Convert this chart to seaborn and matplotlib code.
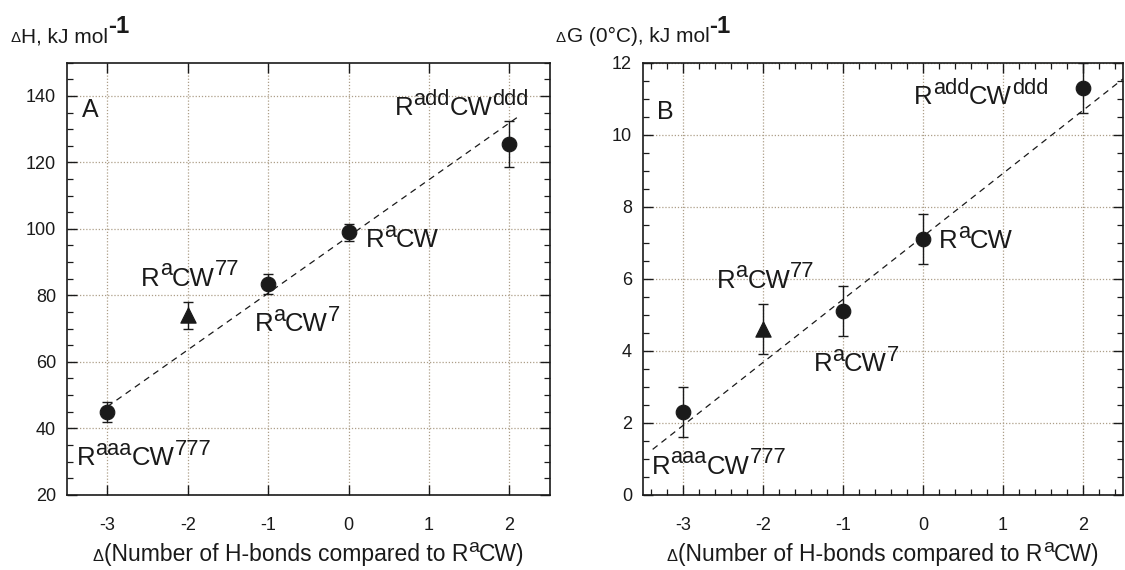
import matplotlib

matplotlib.use("Agg")
import matplotlib.pyplot as plt
import numpy as np
import pandas as pd
import seaborn as sns
from matplotlib.ticker import MultipleLocator
from matplotlib.transforms import offset_copy

sns.set_theme(style="ticks")
plt.rcParams["font.family"] = ["Liberation Sans", "DejaVu Sans"]
plt.rcParams["axes.unicode_minus"] = False

# circles: the compound series, triangle: the odd one out
circle_x = [-3, -1, 0, 2]
triangle_x = [-2]

dh_circle = [45.0, 83.5, 99.0, 125.5]
dh_circle_err = [3.0, 3.0, 2.5, 7.0]
dh_triangle = [74.0]
dh_triangle_err = [4.0]

dg_circle = [2.3, 5.1, 7.1, 11.3]
dg_circle_err = [0.7, 0.7, 0.7, 0.7]
dg_triangle = [4.6]
dg_triangle_err = [0.7]

# dashed fit lines
dh_fit_x = [-3.0, 2.1]
dh_fit_y = [46.5, 133.6]
dg_fit_x = [-3.38, 2.5]
dg_fit_y = [1.26, 11.55]

# point labels as (text, superscript?) pieces
point_labels = [
    [("R", False), ("aaa", True), ("CW", False), ("777", True)],
    [("R", False), ("a", True), ("CW", False), ("77", True)],
    [("R", False), ("a", True), ("CW", False), ("7", True)],
    [("R", False), ("a", True), ("CW", False)],
    [("R", False), ("add", True), ("CW", False), ("ddd", True)],
]
dh_label_pos = [(-3.38, 29.0), (-2.58, 82.9), (-1.17, 69.2), (0.21, 94.4), (0.57, 134.3)]
dg_label_pos = [(-3.39, 0.59), (-2.58, 5.75), (-1.37, 3.43), (0.20, 6.84), (-0.11, 10.84)]

xlabel_parts = [("\u0394", "delta"), ("(Number of H-bonds compared to R", False),
                ("a", True), ("CW)", False)]
dh_ylabel_parts = [("\u0394", "delta"), ("H, kJ mol", False), ("-1", "unit")]
dg_ylabel_parts = [("\u0394", "delta"), ("G (0\u00b0C), kJ mol", False), ("-1", "unit")]

INK = "#1a1a1a"
GRID = "#ad9f88"

fig = plt.figure(figsize=(11.25, 5.7), dpi=100)
renderer = fig.canvas.get_renderer()
ax_a = fig.add_axes([0.0596, 0.132, 0.429, 0.758])
ax_b = fig.add_axes([0.5716, 0.132, 0.4266, 0.758])


def rich_text(x, y, parts, size, base_tr, ha="left"):
    # lay pieces side by side on one baseline, measuring each one
    dx = 0.0
    made = []
    for txt, kind in parts:
        fs, dy, weight = size, 0.0, "normal"
        if kind is True:
            fs, dy = size * 0.85, size * 0.40
        elif kind == "delta":
            fs = size * 0.72
        elif kind == "unit":
            fs, dy, weight = size * 1.15, size * 0.43, "bold"
        tr = offset_copy(base_tr, fig=fig, x=dx, y=dy, units="points")
        t = fig.text(x, y, txt, transform=tr, fontsize=fs, color=INK,
                     va="baseline", ha="left", fontweight=weight)
        made.append(t)
        dx += t.get_window_extent(renderer).width * 72.0 / fig.dpi
        if kind == "delta":
            dx += 0.5
    if ha == "center":
        for t in made:
            t.set_transform(offset_copy(t.get_transform(), fig=fig, x=-dx / 2,
                                        y=0, units="points"))
    return made


def draw_panel(ax, yc, yce, yt, yte, fx, fy):
    circ = pd.DataFrame({"x": circle_x, "y": yc})
    tri = pd.DataFrame({"x": triangle_x, "y": yt})
    fit = pd.DataFrame({"x": fx, "y": fy})
    sns.lineplot(data=fit, x="x", y="y", ax=ax, color=INK, lw=0.9,
                 linestyle=(0, (5, 4)), zorder=2)
    ax.errorbar(circle_x, yc, yerr=yce, fmt="none", ecolor=INK, elinewidth=1.0,
                capsize=3.5, capthick=1.0, zorder=3)
    ax.errorbar(triangle_x, yt, yerr=yte, fmt="none", ecolor=INK, elinewidth=1.0,
                capsize=3.5, capthick=1.0, zorder=3)
    sns.scatterplot(data=circ, x="x", y="y", ax=ax, marker="o", s=110,
                    color=INK, edgecolor=INK, zorder=4)
    sns.scatterplot(data=tri, x="x", y="y", ax=ax, marker="^", s=120,
                    color=INK, edgecolor=INK, zorder=4)
    ax.set_xlim(-3.5, 2.5)
    ax.xaxis.set_major_locator(MultipleLocator(1))
    ax.grid(True, which="major", linestyle=(0, (1, 1.5)), color=GRID, lw=0.9)
    ax.set_xlabel("")
    ax.set_ylabel("")
    for sp in ax.spines.values():
        sp.set_visible(True)
        sp.set_color(INK)
        sp.set_linewidth(1.2)
    ax.tick_params(which="both", direction="in", top=True, right=True,
                   colors=INK, labelsize=13)
    ax.tick_params(which="major", length=7, width=1.0, pad=8)
    ax.tick_params(which="minor", length=4, width=0.9)
    ax.tick_params(axis="x", which="major", pad=16)


draw_panel(ax_a, dh_circle, dh_circle_err, dh_triangle, dh_triangle_err,
           dh_fit_x, dh_fit_y)
ax_a.set_ylim(20, 150)
ax_a.yaxis.set_minor_locator(MultipleLocator(5))
ax_a.set_yticks(np.arange(20, 141, 20))
ax_a.text(-3.32, 135.8, "A", fontsize=18, color=INK, va="center")

draw_panel(ax_b, dg_circle, dg_circle_err, dg_triangle, dg_triangle_err,
           dg_fit_x, dg_fit_y)
ax_b.set_ylim(0, 12)
ax_b.yaxis.set_major_locator(MultipleLocator(2))
ax_b.yaxis.set_minor_locator(MultipleLocator(0.5))
ax_b.xaxis.set_minor_locator(MultipleLocator(0.2))
ax_b.text(-3.32, 10.64, "B", fontsize=18, color=INK, va="center")

for ax, pos_list in ((ax_a, dh_label_pos), (ax_b, dg_label_pos)):
    for parts, (lx, ly) in zip(point_labels, pos_list):
        rich_text(lx, ly, parts, 18.5, ax.transData)

# axis titles placed in figure coordinates
for ax in (ax_a, ax_b):
    bb = ax.get_position()
    rich_text((bb.x0 + bb.x1) / 2, 0.016, xlabel_parts, 16.5, fig.transFigure,
              ha="center")
rich_text(0.009, 0.926, dh_ylabel_parts, 15, fig.transFigure)
rich_text(0.494, 0.926, dg_ylabel_parts, 15, fig.transFigure)

fig.savefig("out.png", dpi=100)
